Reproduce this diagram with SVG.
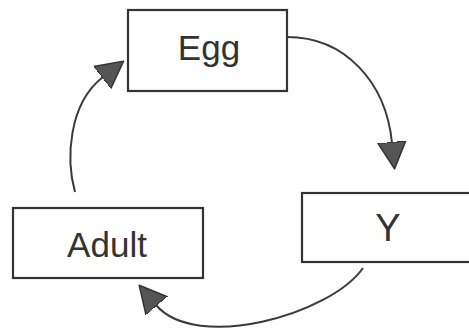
<svg xmlns="http://www.w3.org/2000/svg" width="469" height="333" viewBox="0 0 469 333">
<style>
.box{fill:#fff;stroke:#333;stroke-width:2.2}
.lbl{font-family:"Liberation Sans",Arial,sans-serif;font-size:35px;fill:#333;text-anchor:middle}
.edge{fill:none;stroke:#3a3a3a;stroke-width:2}
</style>
<defs>
<marker id="ah" viewBox="0 0 28 30" refX="1" refY="15" markerWidth="28" markerHeight="30" markerUnits="userSpaceOnUse" orient="auto">
<path d="M0,1 L27,15 L0,29 Z" fill="#555" stroke="#333" stroke-width="1.5" stroke-linejoin="round"/>
</marker>
</defs>
<rect width="469" height="333" fill="#fff"/>
<g id="connectors">
<path class="edge" d="M287,37 C345,37 386,82 392,143" marker-end="url(#ah)"/>
<path class="edge" d="M363,268 C330,315 196,352 156,305" marker-end="url(#ah)"/>
<path class="edge" d="M75,192 C66,160 68,104 103,77" marker-end="url(#ah)"/>
</g>
<g id="egg">
<rect class="box" x="128" y="10" width="159" height="81"/>
<text class="lbl" x="209" y="60">Egg</text>
</g>
<g id="y">
<rect class="box" x="302" y="193" width="180" height="69"/>
<text class="lbl" x="388" y="241" style="font-size:38px">Y</text>
</g>
<g id="adult">
<rect class="box" x="13" y="208" width="190" height="70"/>
<text class="lbl" x="107" y="257">Adult</text>
</g>
</svg>
